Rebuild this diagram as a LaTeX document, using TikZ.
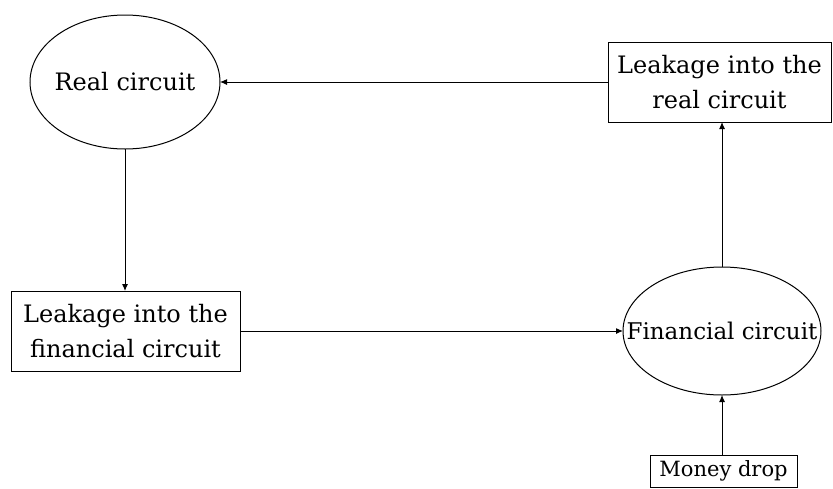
\documentclass[tikz,border=0pt]{standalone}
\usepackage{fontspec}
\setmainfont{DejaVu Serif}
\usetikzlibrary{shapes.geometric,arrows.meta}
\begin{document}
\begin{tikzpicture}[x=1pt,y=-1pt,
  every node/.style={inner sep=0pt,outer sep=0pt,line width=1pt,font=\fontsize{24}{35}\selectfont},
  ell/.style={draw,ellipse},
  box/.style={draw,rectangle,align=center},
  arr/.style={line width=1pt,-{Latex[length=7pt,width=6pt]}}]
\useasboundingbox (0,0) rectangle (833,488);
\node[ell,minimum width=190pt,minimum height=134pt,label={center:Real circuit}] (real) at (125,82) {};
\node[box,minimum width=223pt,minimum height=80pt] (lr) at (719.5,82) {Leakage into the\\real circuit};
\node[box,minimum width=229pt,minimum height=80pt] (lf) at (125.5,331) {Leakage into the\\financial circuit};
\node[ell,minimum width=198pt,minimum height=128pt,label={[font=\fontsize{23}{35}\selectfont]center:Financial circuit}] (fin) at (722,331) {};
\node[box,minimum width=147pt,minimum height=32pt,font=\fontsize{21}{24}\selectfont] (money) at (723.5,471) {Money drop};
\draw[arr] (lr.west) -- (real.east);
\draw[arr] (real.south) -- (real.south |- lf.north);
\draw[arr] (lf.east) -- (fin.west);
\draw[arr] (fin.north) -- (fin.north |- lr.south);
\draw[arr] (fin.south |- money.north) -- (fin.south);
\end{tikzpicture}
\end{document}
